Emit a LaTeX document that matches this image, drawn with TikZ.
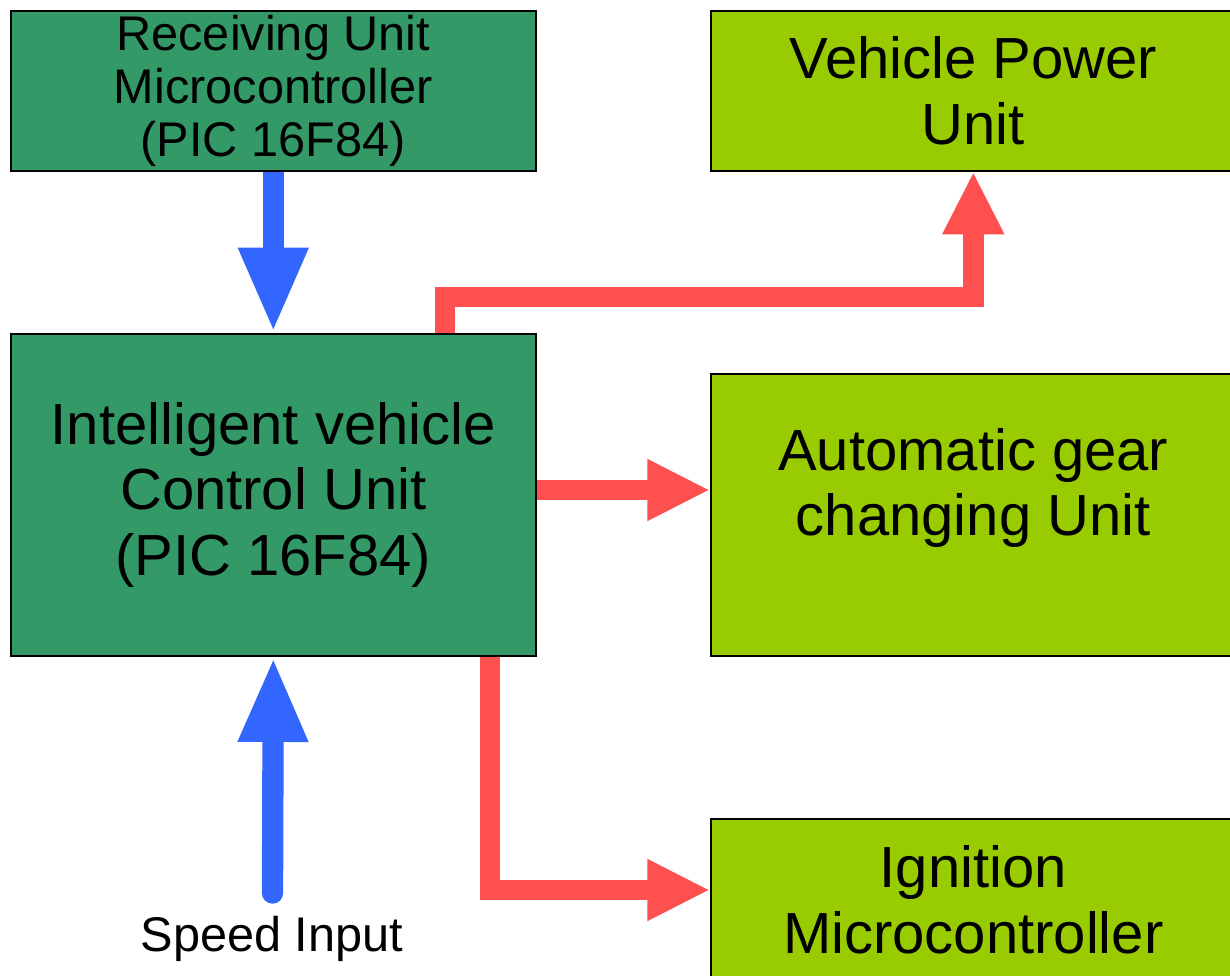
\documentclass[tikz,border=0pt]{standalone}
\usepackage{fontspec}
\setmainfont{Liberation Sans}
\usetikzlibrary{arrows.meta,calc}
\definecolor{dkgreen}{HTML}{339966}
\definecolor{ltgreen}{HTML}{99CC00}
\definecolor{arrblue}{HTML}{3366FF}
\definecolor{arrred}{HTML}{FF5050}
\begin{document}
\begin{tikzpicture}[x=0.75pt,y=-0.75pt,
  box/.style={draw=black, line width=1.2pt, inner sep=0pt, align=center, anchor=north west},
  darkbox/.style={box, fill=dkgreen},
  lightbox/.style={box, fill=ltgreen},
  bigtext/.style={font=\fontsize{43.5}{49}\selectfont},
  smalltext/.style={font=\fontsize{36.5}{40}\selectfont},
  bluearrow/.style={draw=arrblue, line width=16pt, -{Triangle[width=48pt,length=64pt]}},
  redarrow/.style={draw=arrred, line width=15.5pt, line join=miter, -{Triangle[width=43pt,length=47pt]}},
]
\useasboundingbox (0,0) rectangle (1230,975);
\clip (0,0) rectangle (1230,975);
\fill[white] (0,0) rectangle (1230,975);

\node[darkbox, smalltext, minimum width=393.75pt, minimum height=120pt] (recv) at (10,10)
  {Receiving Unit\\Microcontroller\\(PIC 16F84)};
\node[lightbox, bigtext, minimum width=393.75pt, minimum height=120pt] (power) at (710,10)
  {Vehicle Power\\Unit};
\node[darkbox, bigtext, minimum width=393.75pt, minimum height=241.5pt] (ctrl) at (10,333)
  {Intelligent vehicle\\Control Unit\\(PIC 16F84)};
\node[lightbox, bigtext, minimum width=393.75pt, minimum height=211.5pt] (gear) at (710,373)
  {Automatic gear\\changing Unit\\\mbox{}};
\node[lightbox, bigtext, minimum width=393.75pt, minimum height=121.5pt] (ign) at (710,818)
  {Ignition\\Microcontroller};
\node[font=\fontsize{36.5}{40}\selectfont] (speed) at (272,939) {Speed Input};

\coordinate (spdtail) at (272.5,893);
\coordinate (pw) at (445,297);
\coordinate (gy) at (0,490);
\coordinate (ig) at (490,890);

\draw[bluearrow] (recv.south) -- (ctrl.north);
\draw[bluearrow, line cap=round] (spdtail) -- (ctrl.south);
\draw[redarrow] (ctrl.north -| pw) -- (pw) -| (power.south);
\draw[redarrow] (ctrl.east |- gy) -- (gear.west |- gy);
\draw[redarrow] (ctrl.south -| ig) |- (ign.west |- ig);
\end{tikzpicture}
\end{document}
